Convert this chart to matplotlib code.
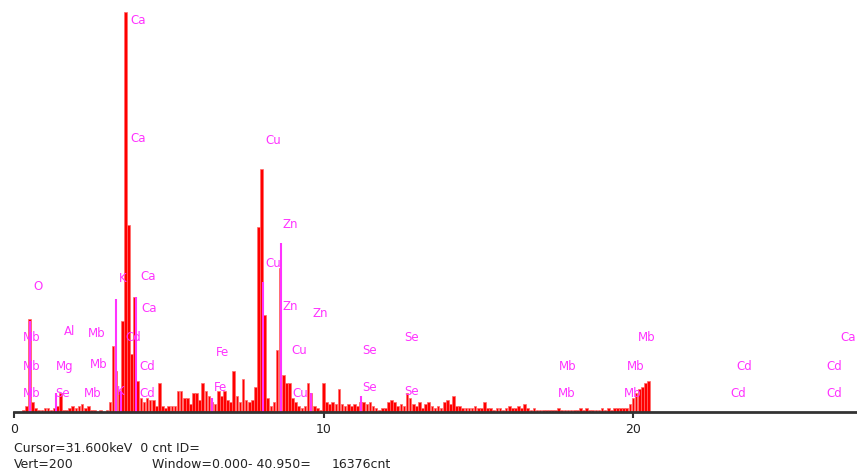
import numpy as np
import matplotlib
matplotlib.use('Agg')
import matplotlib.pyplot as plt

# EDS spectrum, 0.1 keV channels from 0.0 to 20.5 keV (counts)
channel_kev = 0.1
counts = [
    0, 0, 0, 1, 3, 45, 5, 2, 1, 1,            # 0.0 - 0.9
    2, 2, 1, 2, 3, 9, 1, 1, 2, 3,             # 1.0 - 1.9
    2, 3, 4, 2, 3, 1, 1, 0, 1, 0,             # 2.0 - 2.9
    1, 5, 32, 20, 10, 44, 194, 91, 28, 56,    # 3.0 - 3.9
    15, 7, 5, 7, 6, 6, 3, 14, 3, 2,           # 4.0 - 4.9
    3, 3, 3, 10, 10, 7, 7, 4, 9, 9,           # 5.0 - 5.9
    6, 14, 10, 8, 5, 4, 10, 8, 10, 6,         # 6.0 - 6.9
    5, 20, 8, 5, 16, 6, 5, 6, 12, 90,         # 7.0 - 7.9
    118, 47, 7, 3, 5, 30, 70, 18, 14, 14,     # 8.0 - 8.9
    7, 5, 3, 2, 3, 14, 9, 3, 2, 1,            # 9.0 - 9.9
    14, 5, 4, 5, 4, 11, 4, 3, 4, 3,           # 10.0 - 10.9
    4, 3, 5, 5, 4, 5, 3, 2, 1, 2,             # 11.0 - 11.9
    2, 5, 6, 5, 3, 4, 3, 9, 7, 4,             # 12.0 - 12.9
    3, 5, 2, 4, 5, 3, 2, 3, 2, 5,             # 13.0 - 13.9
    6, 4, 8, 3, 3, 2, 2, 2, 2, 3,             # 14.0 - 14.9
    2, 2, 5, 2, 2, 1, 2, 2, 1, 2,             # 15.0 - 15.9
    3, 2, 2, 3, 2, 4, 2, 1, 2, 1,             # 16.0 - 16.9
    1, 1, 1, 1, 1, 1, 2, 1, 1, 1,             # 17.0 - 17.9
    1, 1, 1, 2, 1, 2, 1, 1, 1, 1,             # 18.0 - 18.9
    2, 1, 2, 1, 2, 2, 2, 2, 2, 4,             # 19.0 - 19.9
    7, 9, 11, 12, 14, 15,                     # 20.0 - 20.5
]

# element marker lines (keV, counts)
marker_kev = [0.52, 1.35, 3.31, 3.45, 3.95, 6.40, 8.04, 8.63, 9.6, 11.2]
marker_cnt = [44, 9, 55, 10, 56, 7, 63, 82, 9, 8]

# element labels (text, keV, counts)
label_text = ['O', 'Mb', 'Al', 'Mb', 'Mb', 'Mg', 'Mb', 'Mb', 'Se', 'Mb',
              'K', 'K', 'Ca', 'Ca', 'Ca', 'Ca', 'Cd', 'Cd', 'Cd',
              'Fe', 'Fe', 'Cu', 'Zn', 'Cu', 'Zn', 'Zn', 'Cu', 'Cu',
              'Se', 'Se', 'Se', 'Se',
              'Mb', 'Mb', 'Mb', 'Mb', 'Mb', 'Cd', 'Cd', 'Cd', 'Cd', 'Ca']
label_kev = [0.78, 0.58, 1.81, 2.68, 0.58, 1.65, 2.75, 0.58, 1.58, 2.55,
             3.52, 3.46, 4.01, 4.01, 4.33, 4.36, 3.84, 4.30, 4.30,
             6.75, 6.66, 8.37, 8.92, 8.37, 8.92, 9.89, 9.21, 9.24,
             11.50, 11.50, 12.83, 12.86,
             20.45, 17.90, 20.10, 17.87, 20.00, 23.59, 26.49, 23.39, 26.49, 26.95]
label_cnt = [61, 36, 39, 38, 22, 22, 23, 9, 9, 9,
             65, 10, 190, 133, 66, 50, 36, 22, 9,
             29, 12, 132, 91, 72, 51, 48, 30, 9,
             30, 12, 36, 10,
             36, 22, 22, 9, 9, 22, 22, 9, 9, 36]

tick_kev = [0, 10, 20]

energy = np.arange(len(counts)) * channel_kev

fig = plt.figure(figsize=(8.57, 4.72), dpi=100)
ax = fig.add_axes([14 / 857, 1 - 412 / 472, 843 / 857, 412 / 472])

ax.bar(energy, counts, width=channel_kev * 0.85, color='#ff0000', edgecolor='#ff6a6a',
       linewidth=0.5, align='center')
ax.vlines(marker_kev, 0, marker_cnt, color='#ff33ff', linewidth=1.5)

for t, x, y in zip(label_text, label_kev, label_cnt):
    ax.text(x, y, t, color='#ff33ff', fontsize=8.5, ha='center', va='center')

ax.set_xlim(0, 843 / 30.95)
ax.set_ylim(0, 200)
for s in ['top', 'right', 'left']:
    ax.spines[s].set_visible(False)
ax.spines['bottom'].set_color('#333333')
ax.spines['bottom'].set_linewidth(2)
ax.set_yticks([])
ax.set_xticks(tick_kev)
ax.set_xticklabels([str(t) for t in tick_kev])
ax.tick_params(axis='x', length=4, width=1.5, color='#333333', pad=4,
               labelsize=9, labelcolor='#222222')

# status lines under the spectrum
fig.text(14 / 857, 1 - 448 / 472, 'Cursor=31.600keV  0 cnt ID=', fontsize=9,
         va='center', color='#222222')
fig.text(14 / 857, 1 - 465 / 472, 'Vert=200', fontsize=9, va='center',
         color='#222222')
fig.text(152 / 857, 1 - 465 / 472, 'Window=0.000- 40.950=', fontsize=9,
         va='center', color='#222222')
fig.text(332 / 857, 1 - 465 / 472, '16376cnt', fontsize=9, va='center',
         color='#222222')

fig.savefig('out.png', dpi=100, facecolor='white')
